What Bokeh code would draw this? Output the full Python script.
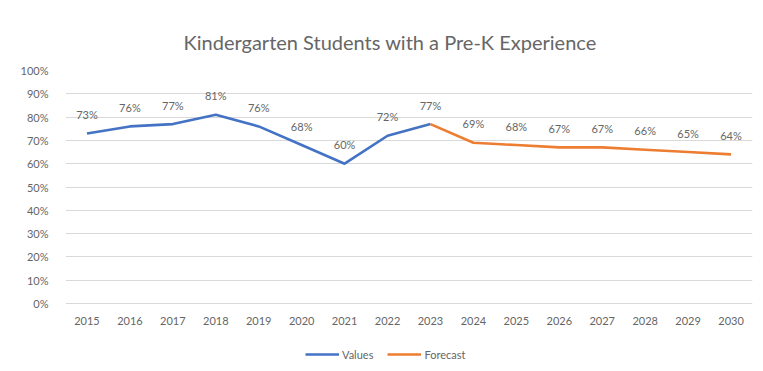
from bokeh.plotting import figure
from bokeh.models import (FactorRange, Range1d, FixedTicker, NumeralTickFormatter,
                          ColumnDataSource, Legend, LegendItem)
from bokeh.core.properties import value
from bokeh.embed import file_html
from bokeh.resources import INLINE

years = [str(y) for y in range(2015, 2031)]
value_years = ["2015", "2016", "2017", "2018", "2019", "2020", "2021", "2022", "2023"]
value_pct = [0.73, 0.76, 0.77, 0.81, 0.76, 0.68, 0.60, 0.72, 0.77]
forecast_years = ["2023", "2024", "2025", "2026", "2027", "2028", "2029", "2030"]
forecast_pct = [0.77, 0.69, 0.68, 0.67, 0.67, 0.66, 0.65, 0.64]
y_ticks = [0, 0.1, 0.2, 0.3, 0.4, 0.5, 0.6, 0.7, 0.8, 0.9, 1.0]

FONT = "Lato"
GREY = "#666666"

# frame extends below the 0% line so the legend (drawn inside the frame) sits under the year labels
p = figure(frame_width=687, frame_height=296, x_range=FactorRange(*years),
           y_range=Range1d(-63.0 / 233.0, 1.0),
           output_backend="svg", toolbar_location=None,
           min_border_left=65, min_border_right=3, min_border_top=70, min_border_bottom=0)
p.outline_line_color = None
p.background_fill_color = "white"
p.border_fill_color = "white"

p.title.text = "Kindergarten Students with a Pre-K Experience"
p.title.align = "left"
p.title.text_font = FONT
p.title.text_font_size = "20px"
p.title.text_font_style = "normal"
p.title.text_color = GREY
p.title.offset = 118
p.title.standoff = 34

src_v = ColumnDataSource(dict(x=value_years, y=value_pct))
src_f = ColumnDataSource(dict(x=forecast_years, y=forecast_pct))

r_v = p.line("x", "y", source=src_v, line_color="#4472C4", line_width=2.6)
r_f = p.line("x", "y", source=src_f, line_color="#ED7D31", line_width=2.6)

lab_v = ColumnDataSource(dict(x=value_years, y=value_pct,
                              lab=["%d%%" % round(v * 100) for v in value_pct]))
lab_f = ColumnDataSource(dict(x=forecast_years[1:], y=forecast_pct[1:],
                              lab=["%d%%" % round(v * 100) for v in forecast_pct[1:]]))
for s in (lab_v, lab_f):
    p.text("x", "y", text="lab", source=s, text_align="center", text_baseline="middle",
           y_offset=-19, text_font=value(FONT), text_font_size="11px", text_color=GREY)

p.yaxis.ticker = FixedTicker(ticks=y_ticks)
p.yaxis.formatter = NumeralTickFormatter(format="0%")
p.xaxis.fixed_location = 0
for ax in (p.xaxis, p.yaxis):
    ax.axis_line_color = None
    ax.major_tick_line_color = None
    ax.minor_tick_line_color = None
    ax.major_label_text_font = FONT
    ax.major_label_text_font_size = "11px"
    ax.major_label_text_color = GREY
    ax.axis_label = None
    ax.axis_label_standoff = 0
    ax.axis_label_text_font_size = "0px"
p.yaxis.major_label_standoff = 11
p.xaxis.major_label_standoff = 7

p.xgrid.grid_line_color = None
p.ygrid.ticker = FixedTicker(ticks=y_ticks)
p.ygrid.grid_line_color = "#D9D9D9"
p.ygrid.grid_line_width = 1

legend = Legend(items=[LegendItem(label="Values", renderers=[r_v]),
                       LegendItem(label="Forecast", renderers=[r_f])],
                orientation="horizontal", location=(240, 2),
                border_line_color=None, background_fill_alpha=0,
                label_text_font=FONT, label_text_font_size="11px", label_text_color=GREY,
                glyph_width=34, label_standoff=3, spacing=14, padding=0, margin=0)
p.add_layout(legend, "center")

open("out.html", "w").write(file_html(p, INLINE))
